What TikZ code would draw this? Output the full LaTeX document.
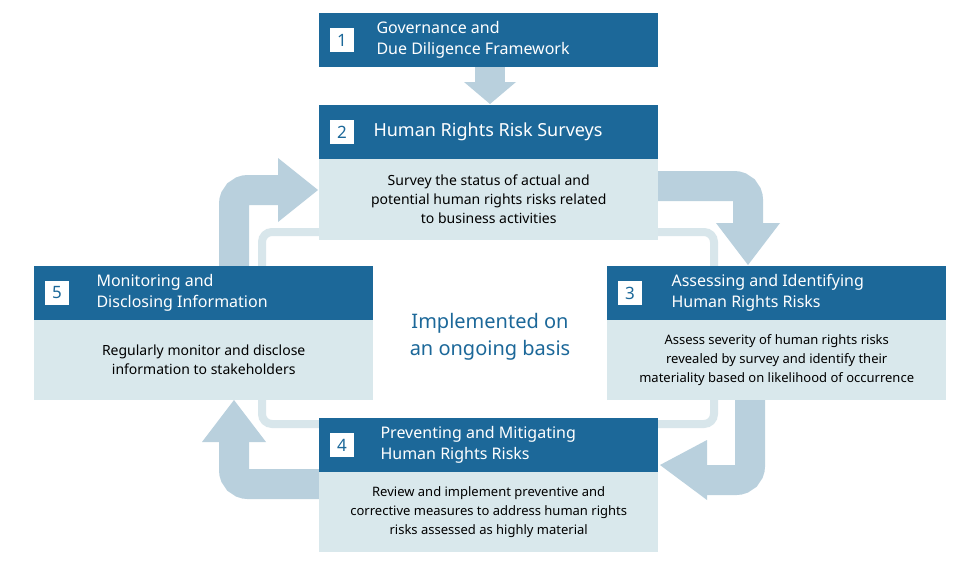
\documentclass[tikz,border=0pt]{standalone}
\usepackage{fontspec}
\setmainfont{Noto Sans}
\definecolor{hdr}{HTML}{1C6899}
\definecolor{bdy}{HTML}{D9E8EC}
\definecolor{arr}{HTML}{B9D0DD}
\definecolor{frm}{HTML}{D8E6EB}
\begin{document}
\begin{tikzpicture}[x=1pt,y=-1pt,
  hbox/.style={fill=hdr,minimum width=339pt,minimum height=54pt,inner sep=0pt,anchor=north west},
  bbox/.style={fill=bdy,minimum width=339pt,minimum height=80pt,inner sep=0pt,anchor=north west,align=center,font=\fontsize{14}{19}\selectfont},
  num/.style={fill=white,text=hdr,minimum size=24pt,inner sep=0pt,font=\bfseries\fontsize{17}{17}\selectfont},
  htxt/.style={text=white,font=\bfseries\fontsize{16}{21}\selectfont,align=left,anchor=west},
  shaft/.style={arr,line width=30pt,rounded corners=14pt},
  head/.style={fill=arr}]
\useasboundingbox (0,0) rectangle (980,562);
\fill[white] (0,0) rectangle (980,562);
\draw[frm,line width=8pt,rounded corners=10pt] (262,232) rectangle (714,424);
% arrows
\draw[shaft] (650,186) -- (748,186) -- (748,225);
\fill[head] (716,223) -- (780,223) -- (748,265) -- cycle;
\draw[shaft] (750,395) -- (750,480) -- (705,480);
\fill[head] (707,440) -- (707,500) -- (660,465) -- cycle;
\draw[shaft] (325,484) -- (234,484) -- (234,440);
\fill[head] (202,442) -- (266,442) -- (234,400) -- cycle;
\draw[shaft] (234,270) -- (234,190) -- (280,190);
\fill[head] (278,158) -- (278,222) -- (318,190) -- cycle;
\fill[arr] (475,66) rectangle (505,84);
\fill[head] (464,82) -- (516,82) -- (490,104) -- cycle;
% box 1
\node[hbox] (h1) at (319,13) {};
\node[num] (n1) at (342,40) {1};
\node[htxt] (t1) at (373,40) {Governance and\\Due Diligence Framework};
% box 2
\node[hbox] (h2) at (319,105) {};
\node[num] (n2) at (342,132) {2};
\node[htxt,font=\bfseries\fontsize{18}{22}\selectfont] (t2) at (370,132) {Human Rights Risk Surveys};
\node[bbox,minimum height=81pt] (b2) at (319,159) {Survey the status of actual and\\potential human rights risks related\\to business activities};
% box 3
\node[hbox] (h3) at (607,266) {};
\node[num] (n3) at (630,293) {3};
\node[htxt] (t3) at (668,293) {Assessing and Identifying\\Human Rights Risks};
\node[bbox,font=\fontsize{13}{19}\selectfont] (b3) at (607,320) {Assess severity of human rights risks\\revealed by survey and identify their\\materiality based on likelihood of occurrence};
% box 4
\node[hbox] (h4) at (319,418) {};
\node[num] (n4) at (342,445) {4};
\node[htxt] (t4) at (377,445) {Preventing and Mitigating\\Human Rights Risks};
\node[bbox,font=\fontsize{13}{19}\selectfont] (b4) at (319,472) {Review and implement preventive and\\corrective measures to address human rights\\risks assessed as highly material};
% box 5
\node[hbox] (h5) at (34,266) {};
\node[num] (n5) at (57,293) {5};
\node[htxt] (t5) at (93,293) {Monitoring and\\Disclosing Information};
\node[bbox] (b5) at (34,320) {Regularly monitor and disclose\\information to stakeholders};
% center
\node[text=hdr,font=\bfseries\fontsize{20}{27}\selectfont,align=center] (c) at (490,337) {Implemented on\\an ongoing basis};
\end{tikzpicture}
\end{document}
